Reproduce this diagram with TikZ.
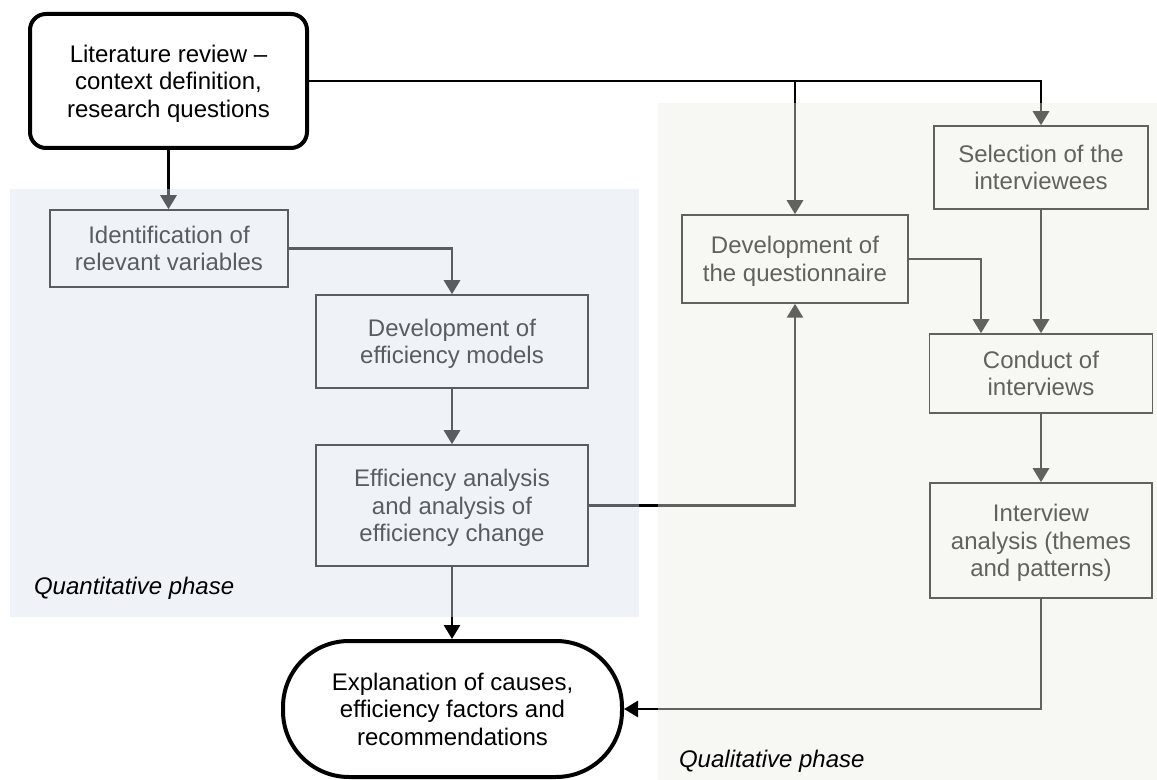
\documentclass[tikz,border=0pt]{standalone}
\usepackage{fontspec}
\setmainfont{Liberation Sans}
\usetikzlibrary{positioning,arrows.meta}
\definecolor{quantfill}{rgb}{0.846,0.885,0.934}
\definecolor{qualfill}{rgb}{0.924,0.934,0.885}

\begin{document}
\begin{tikzpicture}[x=0.5pt,y=-0.5pt,
font=\fontsize{12}{13.8}\selectfont,
box/.style={draw,line width=.75pt,rectangle,align=center,inner sep=0pt,text depth=-8pt},
endbox/.style={box,line width=2pt},
link/.style={line width=1.4pt,-{Triangle[length=7pt,width=8pt]}},
phase/.style={fill opacity=.41,draw=none}]
\useasboundingbox (0,0) rectangle (1157,780);

\node (lit) [endbox,rounded corners=8pt,minimum width=138.5pt,minimum height=67pt] at (168.5,81)
    {Literature review --\\ context definition,\\ research questions};
\node (expl) [endbox,rounded corners=33pt,minimum width=169.5pt,minimum height=68pt] at (452.5,709)
    {Explanation of causes,\\ efficiency factors and\\ recommendations};

\node (ident) [box,minimum width=119pt,minimum height=38.5pt] at (169,248.5)
    {Identification of\\ relevant variables};
\node (devmod) [box,minimum width=136pt,minimum height=46.5pt] at (452,341.5)
    {Development of\\ efficiency models};
\node (effan) [box,minimum width=136pt,minimum height=60.5pt] at (452,505.5)
    {Efficiency analysis\\ and analysis of\\ efficiency change};
\node (devq) [box,minimum width=113pt,minimum height=44pt] at (795,259)
    {Development of\\ the questionnaire};
\node (sel) [box,minimum width=107pt,minimum height=41.5pt] at (1041,167.5)
    {Selection of the\\ interviewees};
\node (cond) [box,minimum width=111.5pt,minimum height=39.5pt] at (1041,373.5)
    {Conduct of\\ interviews};
\node (intan) [box,minimum width=111pt,minimum height=57.5pt] at (1041,540.5)
    {Interview\\ analysis (themes\\ and patterns)};

\coordinate (fork) at (devq.north |- lit.east);
\draw[link] (lit.south) -- (lit.south |- ident.north);
\draw[link] (lit.east) -| (sel.north);
\draw[link] (fork) -- (devq.north);
\draw[link] (ident.east) -| (devmod.north);
\draw[link] (devmod) -- (effan);
\draw[link] (effan.east) -| (devq.south);
\draw[link] (effan.south) -- (effan.south |- expl.north);
\draw[link] (devq.east) -| ([xshift=-30pt]cond.north);
\draw[link] (sel) -- (cond);
\draw[link] (cond) -- (intan);
\draw[link] (intan.south) |- (expl.east);

\fill[phase,fill=quantfill] (10,189) rectangle (639,617);
\fill[phase,fill=qualfill] (658,103) rectangle (1157,780);

\node (quantlabel) [anchor=west,font=\fontsize{12}{13.8}\selectfont\itshape] at (27,588) {Quantitative phase};
\node (quallabel) [anchor=west,font=\fontsize{12}{13.8}\selectfont\itshape] at (672,761) {Qualitative phase};
\end{tikzpicture}
\end{document}
